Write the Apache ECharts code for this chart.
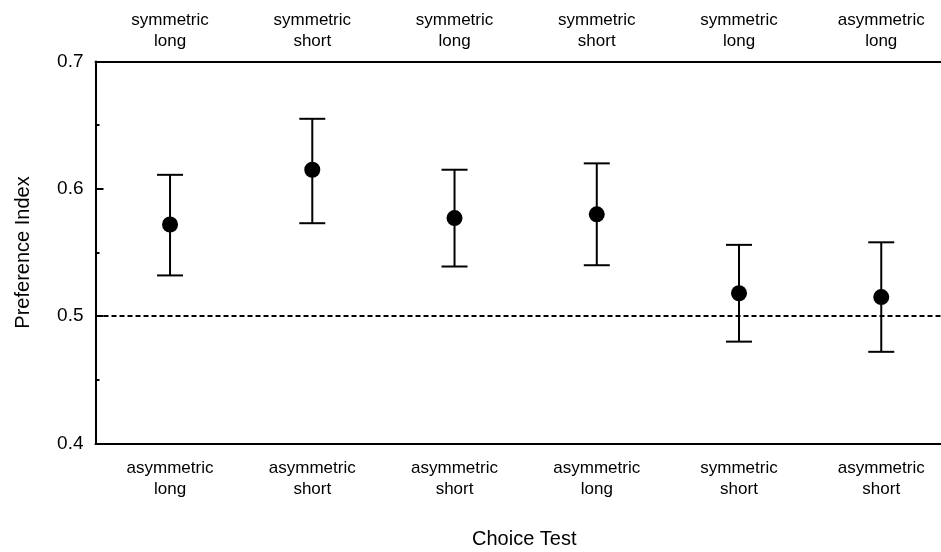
<!DOCTYPE html>
<html>
<head>
<meta charset="utf-8">
<script src="https://cdn.jsdelivr.net/npm/echarts@6/dist/echarts.min.js"></script>
<style>
  html, body { margin: 0; padding: 0; background: #fff; }
  #main { width: 941px; height: 552px; }
</style>
</head>
<body>
<div id="main"></div>
<script>
// labels under and over each test
var bottomLabels = ['asymmetric\nlong', 'asymmetric\nshort', 'asymmetric\nshort', 'asymmetric\nlong', 'symmetric\nshort', 'asymmetric\nshort'];
var topLabels = ['symmetric\nlong', 'symmetric\nshort', 'symmetric\nlong', 'symmetric\nshort', 'symmetric\nlong', 'asymmetric\nlong'];
// preference index and error bar ends
var means = [0.572, 0.615, 0.577, 0.580, 0.518, 0.515];
var upper = [0.611, 0.655, 0.615, 0.620, 0.556, 0.558];
var lower = [0.532, 0.573, 0.539, 0.540, 0.480, 0.472];
var yTicks = [0.4, 0.5, 0.6, 0.7];

var font = 'Liberation Sans, Arial, Helvetica, sans-serif';
var xMin = -0.524, xMax = 5.42;
var pos = [0, 1, 2, 3, 4, 5];

var pointData = [], barData = [];
for (var i = 0; i < means.length; i++) {
  pointData.push([i, means[i]]);
  barData.push([i, lower[i], upper[i]]);
}

function errorBar(params, api) {
  var x = api.value(0);
  var lo = api.coord([x, api.value(1)]);
  var hi = api.coord([x, api.value(2)]);
  var w = 13;
  var st = { stroke: '#000', lineWidth: 2 };
  return {
    type: 'group',
    children: [
      { type: 'line', shape: { x1: lo[0], y1: lo[1], x2: hi[0], y2: hi[1] }, style: st },
      { type: 'line', shape: { x1: lo[0] - w, y1: lo[1], x2: lo[0] + w, y2: lo[1] }, style: st },
      { type: 'line', shape: { x1: hi[0] - w, y1: hi[1], x2: hi[0] + w, y2: hi[1] }, style: st }
    ]
  };
}

var myChart = echarts.init(document.getElementById('main'));
var option = {
  animation: false,
  backgroundColor: '#fff',
  textStyle: { fontFamily: font, color: '#000' },
  grid: { left: 95.5, right: 0, top: 61.5, bottom: 108.5, containLabel: false, outerBoundsMode: 'none' },
  xAxis: [{
    type: 'value',
    position: 'bottom',
    min: xMin, max: xMax,
    name: 'Choice Test',
    nameLocation: 'middle',
    nameGap: 86,
    nameTextStyle: { fontFamily: font, fontSize: 20, color: '#000', padding: [0, 0, 0, 12] },
    axisLine: { show: true, onZero: false, lineStyle: { color: '#000', width: 2 } },
    axisTick: { show: false },
    splitLine: { show: false },
    axisLabel: {
      customValues: pos,
      formatter: function (v) { return bottomLabels[Math.round(v)]; },
      fontFamily: font, fontSize: 17, lineHeight: 21, color: '#000', margin: 14
    }
  }, {
    type: 'value',
    position: 'top',
    min: xMin, max: xMax,
    axisLine: { show: true, onZero: false, lineStyle: { color: '#000', width: 2 } },
    axisTick: { show: false },
    splitLine: { show: false },
    axisLabel: {
      customValues: pos,
      formatter: function (v) { return topLabels[Math.round(v)]; },
      fontFamily: font, fontSize: 17, lineHeight: 21, color: '#000', margin: 10
    }
  }],
  yAxis: {
    type: 'value',
    min: 0.4, max: 0.7, interval: 0.1,
    name: 'Preference Index',
    nameLocation: 'middle',
    nameGap: 62,
    nameTextStyle: { fontFamily: font, fontSize: 20, color: '#000' },
    axisLine: { show: true, onZero: false, lineStyle: { color: '#000', width: 2 } },
    axisTick: { show: true, inside: true, length: 8, lineStyle: { color: '#000', width: 2 } },
    minorTick: { show: true, splitNumber: 2, length: 4, lineStyle: { color: '#000', width: 2 } },
    splitLine: { show: false },
    axisLabel: {
      customValues: yTicks,
      formatter: function (v) { return v.toFixed(1); },
      fontFamily: font, fontSize: 19, color: '#000', margin: 12
    }
  },
  series: [{
    type: 'custom',
    renderItem: errorBar,
    data: barData,
    z: 2
  }, {
    type: 'scatter',
    data: pointData,
    symbol: 'circle',
    symbolSize: 16,
    itemStyle: { color: '#000', opacity: 1 },
    z: 3,
    markLine: {
      silent: true,
      symbol: ['none', 'none'],
      label: { show: false },
      lineStyle: { color: '#000', width: 2, type: [5, 3] },
      data: [{ yAxis: 0.5 }]
    }
  }]
};
myChart.setOption(option);
</script>
</body>
</html>
